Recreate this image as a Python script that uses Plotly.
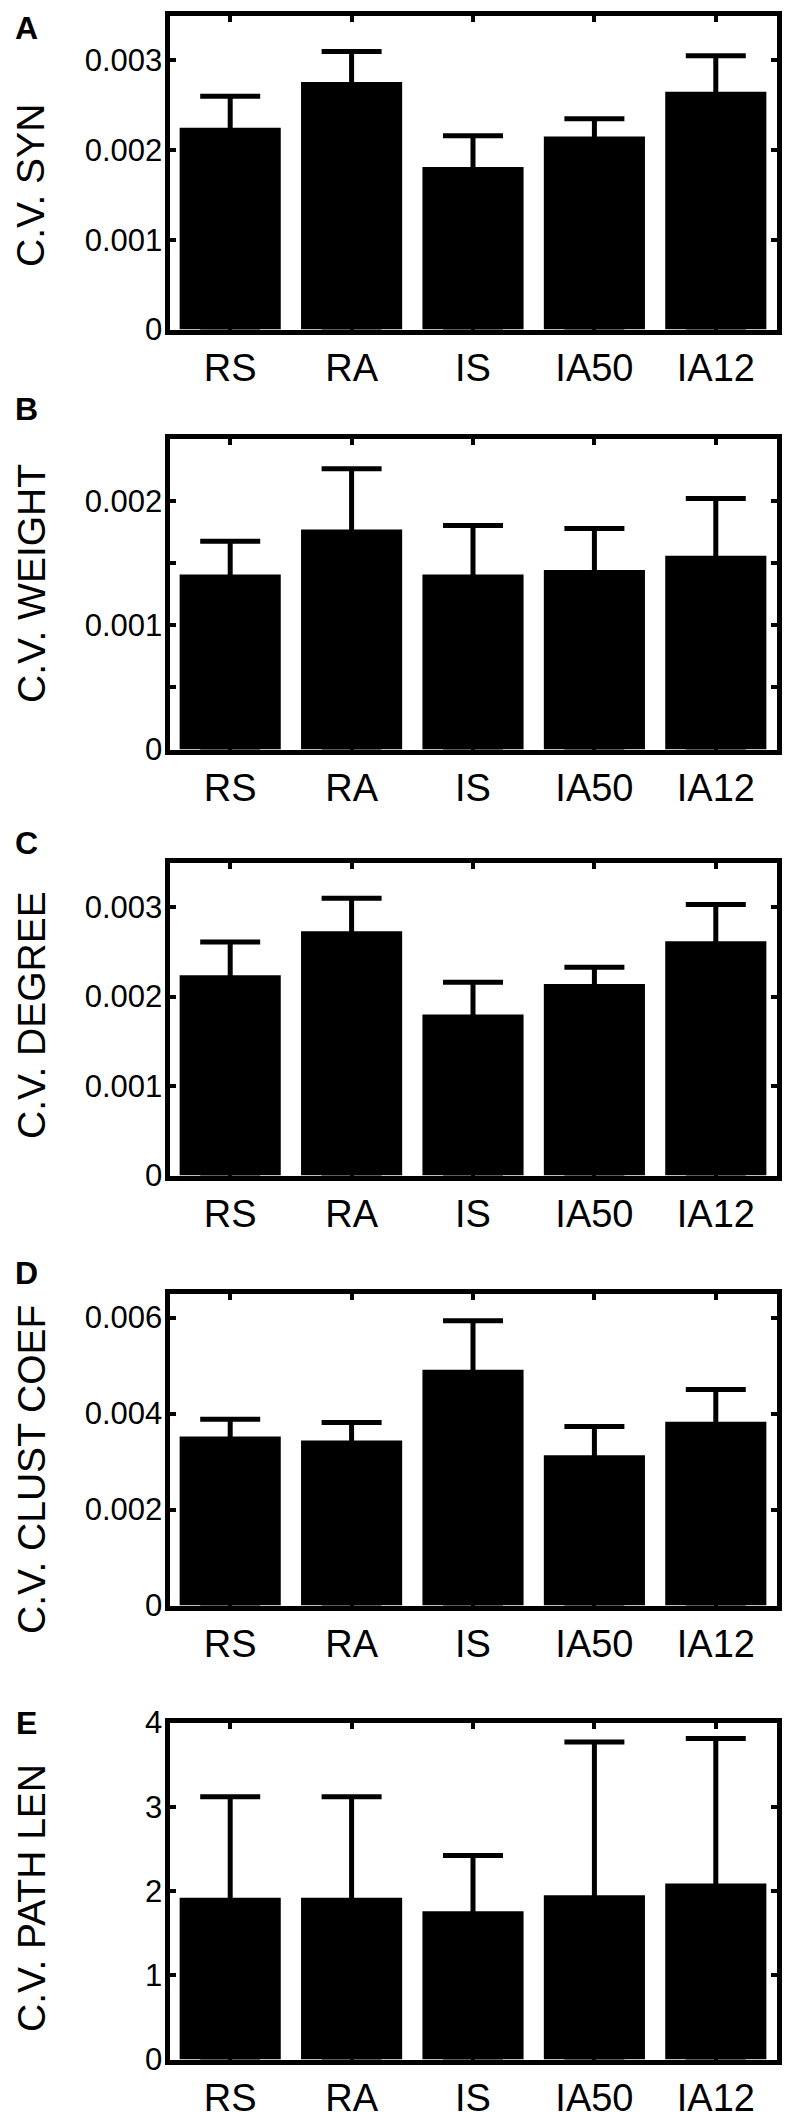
import plotly.graph_objects as go

W, H = 792, 2125

categories = ["RS", "RA", "IS", "IA50", "IA12"]

# panel A: C.V. SYN
syn_mean = [0.00225, 0.00276, 0.00181, 0.00215, 0.00265]
syn_upper = [0.00260, 0.00310, 0.00216, 0.00235, 0.00305]
# panel B: C.V. WEIGHT
weight_mean = [0.001406, 0.001768, 0.001406, 0.001443, 0.001557]
weight_upper = [0.001675, 0.002256, 0.001800, 0.001776, 0.002018]
# panel C: C.V. DEGREE
degree_mean = [0.00224, 0.00273, 0.00180, 0.00214, 0.00262]
degree_upper = [0.00261, 0.00310, 0.00216, 0.00233, 0.00303]
# panel D: C.V. CLUST COEF
clust_mean = [0.00352, 0.00344, 0.00491, 0.00313, 0.00383]
clust_upper = [0.00388, 0.00381, 0.00593, 0.00373, 0.00450]
# panel E: C.V. PATH LEN
path_mean = [1.92, 1.92, 1.76, 1.95, 2.09]
path_upper = [3.12, 3.12, 2.42, 3.77, 3.81]

# y-axis ticks
syn_ticks = [0, 0.001, 0.002, 0.003]
syn_ticktext = ["0", "0.001", "0.002", "0.003"]
weight_ticks = [0, 0.0005, 0.001, 0.0015, 0.002]
weight_ticktext = ["0", "", "0.001", "", "0.002"]
clust_ticks = [0, 0.002, 0.004, 0.006]
clust_ticktext = ["0", "0.002", "0.004", "0.006"]
path_ticks = [0, 1, 2, 3, 4]
path_ticktext = ["0", "1", "2", "3", "4"]

panels = [
    dict(letter="A", title="C.V. SYN", mean=syn_mean, upper=syn_upper,
         yr=[0, 0.0035], tv=syn_ticks, tt=syn_ticktext,
         top=13, bot=332, title_c=186, letter_c=28),
    dict(letter="B", title="C.V. WEIGHT", mean=weight_mean, upper=weight_upper,
         yr=[0, 0.0025], tv=weight_ticks, tt=weight_ticktext,
         top=436, bot=752, title_c=584, letter_c=409),
    dict(letter="C", title="C.V. DEGREE", mean=degree_mean, upper=degree_upper,
         yr=[0, 0.0035], tv=syn_ticks, tt=syn_ticktext,
         top=860, bot=1178, title_c=1015, letter_c=843),
    dict(letter="D", title="C.V. CLUST COEF", mean=clust_mean, upper=clust_upper,
         yr=[0, 0.0065], tv=clust_ticks, tt=clust_ticktext,
         top=1291, bot=1608, title_c=1470, letter_c=1273),
    dict(letter="E", title="C.V. PATH LEN", mean=path_mean, upper=path_upper,
         yr=[0, 4], tv=path_ticks, tt=path_ticktext,
         top=1720, bot=2062, title_c=1898, letter_c=1723),
]

LW = 5
x_left, x_right = 167, 779
FONT = "Liberation Sans, Arial, sans-serif"

fig = go.Figure()
layout = dict(
    width=W, height=H,
    margin=dict(l=0, r=0, t=0, b=0, autoexpand=False),
    paper_bgcolor="white", plot_bgcolor="white",
    showlegend=False,
    bargap=0.167,
    annotations=[],
)

for i, p in enumerate(panels, start=1):
    xa = "x" if i == 1 else f"x{i}"
    ya = "y" if i == 1 else f"y{i}"
    # error bar runs from 0 (hidden inside the bar) up to the upper value
    err_up = [u - m for u, m in zip(p["upper"], p["mean"])]
    err_down = list(p["mean"])
    fig.add_trace(go.Bar(
        x=categories, y=p["mean"], xaxis=xa, yaxis=ya,
        marker=dict(color="black", line=dict(width=0)),
        error_y=dict(type="data", symmetric=False, array=err_up,
                     arrayminus=err_down,
                     color="black", thickness=5, width=30),
        hoverinfo="skip",
    ))
    dom_x = [(x_left + LW / 2) / W, (x_right - LW / 2) / W]
    dom_y = [1 - (p["bot"] - LW / 2) / H, 1 - (p["top"] + LW / 2) / H]
    layout[f"xaxis{'' if i == 1 else i}"] = dict(
        domain=dom_x, anchor=ya, type="category",
        range=[-0.5, len(categories) - 0.5],
        showline=True, linecolor="black", linewidth=LW, mirror="ticks",
        ticks="inside", ticklen=6, tickwidth=4, tickcolor="black",
        showgrid=False, zeroline=False, automargin=False,
        tickfont=dict(family=FONT, size=38, color="black"),
        ticklabelstandoff=1,
        fixedrange=True,
    )
    layout[f"yaxis{'' if i == 1 else i}"] = dict(
        domain=dom_y, anchor=xa, range=p["yr"],
        tickmode="array", tickvals=p["tv"], ticktext=p["tt"],
        showline=True, linecolor="black", linewidth=LW, mirror="ticks",
        ticks="inside", ticklen=6, tickwidth=4, tickcolor="black",
        showgrid=False, zeroline=False, automargin=False,
        tickfont=dict(family=FONT, size=31, color="black"),
        ticklabelstandoff=-4,
        fixedrange=True,
    )
    layout["annotations"].append(dict(
        text=p["title"], xref="paper", yref="paper",
        x=31 / W, y=1 - p["title_c"] / H, xanchor="center", yanchor="middle",
        textangle=-90, showarrow=False,
        font=dict(family=FONT, size=39, color="black"),
    ))
    layout["annotations"].append(dict(
        text=f"<b>{p['letter']}</b>", xref="paper", yref="paper",
        x=26 / W, y=1 - p["letter_c"] / H, xanchor="center", yanchor="middle",
        showarrow=False,
        font=dict(family=FONT, size=32, color="black"),
    ))

fig.update_layout(**layout)
fig.write_html("out.html", config={"displayModeBar": False},
               post_script="document.body.style.margin='0';document.body.style.overflow='hidden';")
